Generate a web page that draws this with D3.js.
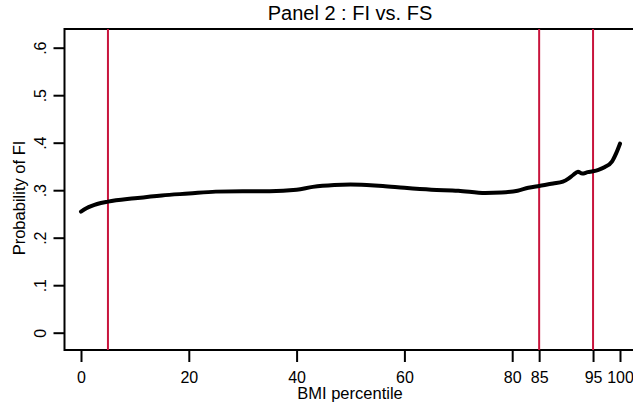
<!DOCTYPE html>
<html>
<head>
<meta charset="utf-8">
<script src="https://cdn.jsdelivr.net/npm/d3@7"></script>
<style>
  body { margin: 0; background: #fff; }
  svg text { font-family: "Liberation Sans", Arial, sans-serif; fill: #000; }
</style>
</head>
<body>
<svg id="chart" width="633" height="407"></svg>
<script>
'use strict';

// BMI percentile vs. predicted probability of FI
const percentiles = [0, 1, 2, 3, 5, 10, 15, 20, 25, 30, 35, 40, 43, 47, 50, 53, 56, 60, 65, 70, 75, 78, 81, 83, 85, 87.6, 89.4, 90.5, 91.3, 92.2, 93, 94, 95, 96, 97.2, 98.5, 99.3, 100];
const probFI = [0.255, 0.262, 0.267, 0.271, 0.276, 0.283, 0.289, 0.293, 0.297, 0.298, 0.298, 0.301, 0.307, 0.311, 0.312, 0.311, 0.309, 0.305, 0.301, 0.299, 0.294, 0.295, 0.299, 0.305, 0.309, 0.314, 0.318, 0.325, 0.332, 0.339, 0.335, 0.338, 0.340, 0.343, 0.349, 0.360, 0.378, 0.398];

// cut-off lines
const cutoffs = [5, 85, 95];

const xTicks = [0, 20, 40, 60, 80, 85, 95, 100];
const yTicks = [0, 0.1, 0.2, 0.3, 0.4, 0.5, 0.6];
const yTickLabels = ["0", ".1", ".2", ".3", ".4", ".5", ".6"];

const svg = d3.select("#chart");
const W = 633;
const plotLeft = 64.5, plotTop = 29, plotBottom = 350;

let x = d3.scaleLinear().domain([0, 100]).range([81, 620]);
let y = d3.scaleLinear().domain([0, 0.6]).range([332.7, 47.7]);

// plot region frame (left, top, bottom)
svg.append("path")
    .attr("d", `M${W},${plotTop}H${plotLeft}V${plotBottom}H${W}`)
    .attr("fill", "none")
    .attr("stroke", "#000")
    .attr("stroke-width", 2);

// red reference lines
svg.selectAll("line.cut")
    .data(cutoffs)
    .enter().append("line")
    .attr("class", "cut")
    .attr("x1", d => x(d)).attr("x2", d => x(d))
    .attr("y1", plotTop).attr("y2", plotBottom)
    .attr("stroke", "#c8143c")
    .attr("stroke-width", 2);

// the fitted curve
let line = d3.line()
    .x((d, i) => x(percentiles[i]))
    .y(d => y(d))
    .curve(d3.curveMonotoneX);
svg.append("path")
    .datum(probFI)
    .attr("d", line)
    .attr("fill", "none")
    .attr("stroke", "#000")
    .attr("stroke-width", 4)
    .attr("stroke-linecap", "round")
    .attr("stroke-linejoin", "round");

// x axis
let xAxis = d3.axisBottom(x).tickValues(xTicks).tickSize(12).tickPadding(10).tickFormat(d3.format("d"));
let gx = svg.append("g").attr("transform", `translate(0,${plotBottom})`).call(xAxis);
gx.select(".domain").remove();
gx.selectAll(".tick line").attr("stroke", "#000").attr("stroke-width", 2);
gx.selectAll(".tick text").attr("font-size", 16);

// y axis, labels turned sideways
let yAxis = d3.axisLeft(y).tickValues(yTicks).tickSize(11)
    .tickFormat((d, i) => yTickLabels[i]);
let gy = svg.append("g").attr("transform", `translate(${plotLeft},0)`).call(yAxis);
gy.select(".domain").remove();
gy.selectAll(".tick line").attr("stroke", "#000").attr("stroke-width", 2);
gy.selectAll(".tick text")
    .attr("font-size", 16)
    .attr("transform", "rotate(-90)")
    .attr("x", 0)
    .attr("y", -19)
    .attr("dy", 0)
    .attr("text-anchor", "middle");
svg.selectAll("g").attr("font-family", null).attr("font-size", null);

// titles
svg.append("text")
    .attr("x", 350).attr("y", 20)
    .attr("text-anchor", "middle")
    .attr("font-size", 20)
    .text("Panel 2 : FI vs. FS");

svg.append("text")
    .attr("x", 350).attr("y", 399)
    .attr("text-anchor", "middle")
    .attr("font-size", 16.5)
    .text("BMI percentile");

svg.append("text")
    .attr("transform", "translate(25,198) rotate(-90)")
    .attr("text-anchor", "middle")
    .attr("font-size", 16.5)
    .text("Probability of FI");
</script>
</body>
</html>
